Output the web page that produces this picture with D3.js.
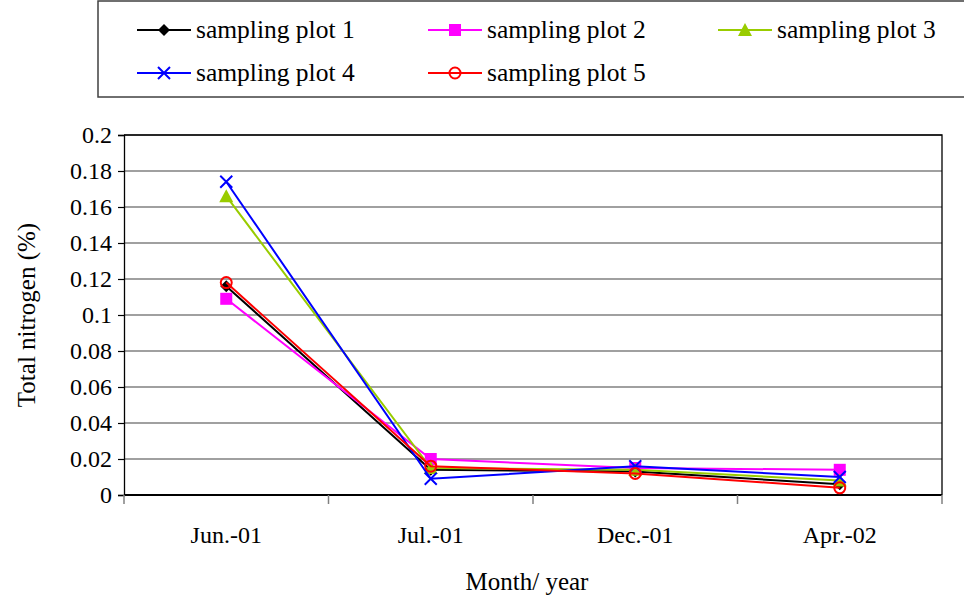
<!DOCTYPE html>
<html>
<head>
<meta charset="utf-8">
<script src="https://cdn.jsdelivr.net/npm/d3@7"></script>
<style>
  html, body { margin: 0; padding: 0; background: #fff; }
  svg { display: block; }
  text { font-family: "Liberation Serif", "Times New Roman", serif; fill: #000; }
</style>
</head>
<body>
<svg id="chart" width="964" height="597"></svg>
<script>
// Sampling months (x categories)
const months = ["Jun.-01", "Jul.-01", "Dec.-01", "Apr.-02"];

// Total nitrogen (%) per sampling plot
const plot1 = [0.116, 0.014, 0.013, 0.006];
const plot2 = [0.109, 0.020, 0.015, 0.014];
const plot3 = [0.166, 0.015, 0.014, 0.008];
const plot4 = [0.174, 0.009, 0.016, 0.010];
const plot5 = [0.118, 0.016, 0.012, 0.004];

const seriesNames = ["sampling plot 1", "sampling plot 2", "sampling plot 3", "sampling plot 4", "sampling plot 5"];
const yTicks = [0, 0.02, 0.04, 0.06, 0.08, 0.1, 0.12, 0.14, 0.16, 0.18, 0.2];

const series = [
  { name: seriesNames[0], values: plot1, color: "#000000", marker: "diamond" },
  { name: seriesNames[1], values: plot2, color: "#ff00ff", marker: "square" },
  { name: seriesNames[2], values: plot3, color: "#99cc00", marker: "triangle" },
  { name: seriesNames[3], values: plot4, color: "#0000ff", marker: "cross" },
  { name: seriesNames[4], values: plot5, color: "#ff0000", marker: "circle" }
];

const svg = d3.select("#chart");
const plot = { left: 124, right: 942, top: 135, bottom: 495 };

const x = d3.scaleBand().domain(months).range([plot.left, plot.right]);
const y = d3.scaleLinear().domain([0, 0.2]).range([plot.bottom, plot.top]);

// Gridlines
svg.append("g")
  .selectAll("line")
  .data(yTicks.filter(d => d > 0))
  .join("line")
  .attr("x1", plot.left).attr("x2", plot.right)
  .attr("y1", d => y(d)).attr("y2", d => y(d))
  .attr("stroke", "#808080").attr("stroke-width", 1.3);

// Plot area border (right and top)
svg.append("path")
  .attr("d", `M${plot.left},${plot.top}H${plot.right}V${plot.bottom}`)
  .attr("fill", "none").attr("stroke", "#000").attr("stroke-width", 1.3);

// Y axis
const yAxis = svg.append("g")
  .attr("transform", `translate(${plot.left},0)`)
  .call(d3.axisLeft(y).tickValues(yTicks).tickSize(6).tickPadding(6)
    .tickFormat(d => d3.format("")(+d.toFixed(2))));
yAxis.attr("font-family", null);
yAxis.select(".domain").attr("stroke", "#000").attr("stroke-width", 1.3);
yAxis.selectAll(".tick line").attr("stroke", "#000").attr("stroke-width", 1.2);
yAxis.selectAll(".tick text").attr("font-size", 24).attr("fill", "#000");

// X axis with ticks between categories
const xAxisG = svg.append("g").attr("transform", `translate(0,${plot.bottom})`);
xAxisG.append("line")
  .attr("x1", plot.left).attr("x2", plot.right)
  .attr("stroke", "#000").attr("stroke-width", 2);
const bounds = months.map(m => x(m)).concat([x(months[months.length - 1]) + x.bandwidth()]);
xAxisG.selectAll("line.tk")
  .data(bounds)
  .join("line").attr("class", "tk")
  .attr("x1", d => d).attr("x2", d => d)
  .attr("y1", 0).attr("y2", 9)
  .attr("stroke", "#808080").attr("stroke-width", 1.5);
xAxisG.selectAll("text")
  .data(months)
  .join("text")
  .attr("x", d => x(d) + x.bandwidth() / 2)
  .attr("y", 48)
  .attr("text-anchor", "middle")
  .attr("font-size", 24)
  .text(d => d);

// Axis titles
svg.append("text")
  .attr("x", 527).attr("y", 590)
  .attr("text-anchor", "middle").attr("font-size", 25)
  .text("Month/ year");
svg.append("text")
  .attr("transform", `translate(35,${(plot.top + plot.bottom) / 2}) rotate(-90)`)
  .attr("text-anchor", "middle").attr("font-size", 25)
  .text("Total nitrogen (%)");

// Marker drawing
function drawMarker(g, type, color) {
  switch (type) {
    case "diamond":
      g.append("path").attr("d", "M0,-6L6,0L0,6L-6,0Z").attr("fill", color);
      break;
    case "square":
      g.append("rect").attr("x", -6).attr("y", -6).attr("width", 12).attr("height", 12).attr("fill", color);
      break;
    case "triangle":
      g.append("path").attr("d", "M0,-7L7,6L-7,6Z").attr("fill", color);
      break;
    case "cross":
      g.append("path").attr("d", "M-6,-6L6,6M-6,6L6,-6").attr("stroke", color).attr("stroke-width", 2).attr("fill", "none");
      break;
    case "circle":
      g.append("circle").attr("r", 5.5).attr("fill", "none").attr("stroke", color).attr("stroke-width", 2);
      break;
  }
}

const line = d3.line()
  .x((d, i) => x(months[i]) + x.bandwidth() / 2)
  .y(d => y(d));

series.forEach(s => {
  const g = svg.append("g");
  g.append("path")
    .attr("d", line(s.values))
    .attr("fill", "none")
    .attr("stroke", s.color)
    .attr("stroke-width", 2);
  s.values.forEach((v, i) => {
    const m = g.append("g")
      .attr("transform", `translate(${x(months[i]) + x.bandwidth() / 2},${y(v)})`);
    drawMarker(m, s.marker, s.color);
  });
});

// Legend
const legend = svg.append("g");
legend.append("rect")
  .attr("x", 98).attr("y", 1).attr("width", 880).attr("height", 96)
  .attr("fill", "#fff").attr("stroke", "#404040").attr("stroke-width", 1.5);
const legendPos = [
  { x: 137, y: 30 }, { x: 428, y: 30 }, { x: 718, y: 30 },
  { x: 137, y: 73 }, { x: 428, y: 73 }
];
series.forEach((s, i) => {
  const p = legendPos[i];
  const item = legend.append("g").attr("transform", `translate(${p.x},${p.y})`);
  item.append("line").attr("x1", 0).attr("x2", 54).attr("stroke", s.color).attr("stroke-width", 2);
  drawMarker(item.append("g").attr("transform", "translate(27,0)"), s.marker, s.color);
  item.append("text").attr("x", 59).attr("y", 8).attr("font-size", 25.5).text(s.name);
});
</script>
</body>
</html>
